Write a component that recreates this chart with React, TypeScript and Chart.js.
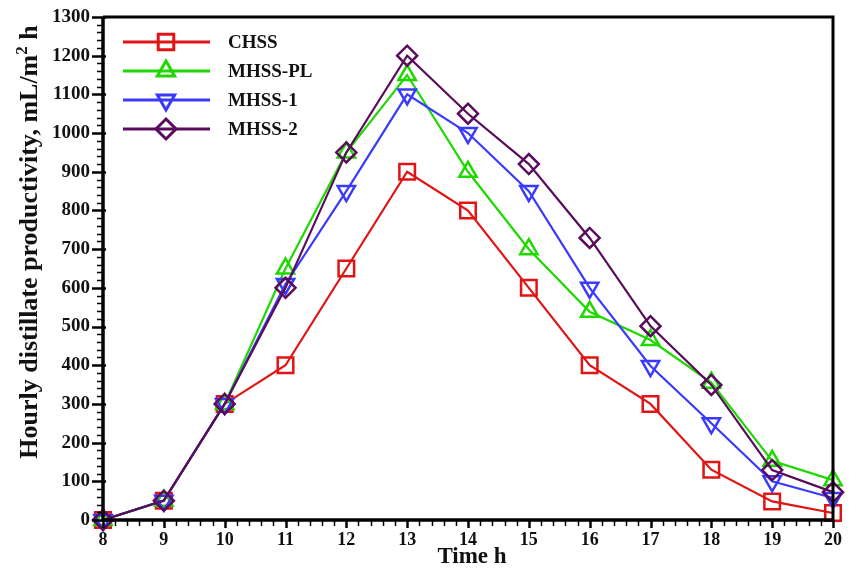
import { useEffect, useRef } from "react";
import { Chart, registerables } from "chart.js";

Chart.register(...registerables);

const hours = [8, 9, 10, 11, 12, 13, 14, 15, 16, 17, 18, 19, 20];
const chss = [0, 50, 300, 400, 650, 900, 800, 600, 400, 300, 130, 48, 18];
const mhssPL = [0, 50, 300, 650, 950, 1150, 900, 700, 538, 465, 355, 153, 103];
const mhss1 = [0, 50, 300, 610, 850, 1100, 1000, 850, 600, 398, 250, 100, 57];
const mhss2 = [0, 50, 300, 600, 950, 1200, 1050, 920, 729, 501, 349, 129, 72];

const seriesNames = ["CHSS", "MHSS-PL", "MHSS-1", "MHSS-2"];
const seriesColors = ["#e01414", "#1ed800", "#3a3aff", "#5a0c5c"];
const seriesMarkers = ["rect", "triangle", "triangle", "rectRot"];
const seriesRotation = [0, 0, 180, 0];
const seriesRadius = [11, 10, 10, 10];
const seriesValues = [chss, mhssPL, mhss1, mhss2];

const xTitle = "Time h";
const yTitleMain = "Hourly distillate productivity, mL/m";
const yTitleSup = "2";
const yTitleEnd = " h";

const FONT = "'Liberation Serif', 'Times New Roman', serif";

const framePlugin = {
  id: "frame",
  afterDraw(chart: any) {
    const { ctx, chartArea: a, scales } = chart;
    const x = scales.x;
    const y = scales.y;
    ctx.save();
    ctx.strokeStyle = "#000";
    // y ticks
    for (let v = 0; v <= 1300; v += 20) {
      const py = Math.round(y.getPixelForValue(v)) + 0.5;
      const major = v % 100 === 0;
      ctx.lineWidth = major ? 2.5 : 1.5;
      ctx.beginPath();
      ctx.moveTo(a.left - (major ? 11 : 6), py);
      ctx.lineTo(a.left + (major ? 3 : 0), py);
      ctx.stroke();
    }
    // x ticks
    for (let i = 0; i <= 60; i++) {
      const v = 8 + i * 0.2;
      const px = Math.round(x.getPixelForValue(v)) + 0.5;
      const major = i % 5 === 0;
      ctx.lineWidth = major ? 2.5 : 1.5;
      ctx.beginPath();
      ctx.moveTo(px, a.bottom);
      ctx.lineTo(px, a.bottom + (major ? 8 : 6));
      ctx.stroke();
    }
    // frame
    ctx.lineWidth = 3;
    ctx.beginPath();
    ctx.moveTo(a.left, a.top);
    ctx.lineTo(a.right, a.top);
    ctx.lineTo(a.right, a.bottom);
    ctx.stroke();
    ctx.lineWidth = 3.5;
    ctx.beginPath();
    ctx.moveTo(a.left, a.top);
    ctx.lineTo(a.left, a.bottom);
    ctx.lineTo(a.right, a.bottom);
    ctx.stroke();

    // legend
    for (let i = 0; i < seriesNames.length; i++) {
      const ly = 42 + i * 29;
      ctx.strokeStyle = seriesColors[i];
      ctx.lineWidth = 3;
      ctx.beginPath();
      ctx.moveTo(123, ly);
      ctx.lineTo(210, ly);
      ctx.stroke();
      ctx.strokeStyle = seriesColors[i];
      ctx.lineWidth = 3;
      drawMarker(ctx, seriesMarkers[i], seriesRadius[i], seriesRotation[i], 166, ly);
      ctx.fillStyle = "#111";
      ctx.font = `bold 19px ${FONT}`;
      ctx.textAlign = "left";
      ctx.textBaseline = "middle";
      ctx.fillText(seriesNames[i], 228, ly + 1);
    }

    // x title
    ctx.fillStyle = "#111";
    ctx.font = `bold 23px ${FONT}`;
    ctx.textAlign = "center";
    ctx.textBaseline = "alphabetic";
    ctx.fillText(xTitle, 472, 563);

    // y title (rotated)
    ctx.save();
    ctx.translate(30, 242);
    ctx.rotate(-Math.PI / 2);
    const big = `bold 26px ${FONT}`;
    const small = `bold 17px ${FONT}`;
    ctx.font = big;
    const w1 = ctx.measureText(yTitleMain).width;
    ctx.font = small;
    const w2 = ctx.measureText(yTitleSup).width;
    ctx.font = big;
    const w3 = ctx.measureText(yTitleEnd).width;
    const total = w1 + w2 + w3;
    let cx = -total / 2;
    ctx.textAlign = "left";
    ctx.textBaseline = "middle";
    ctx.fillText(yTitleMain, cx, 0);
    cx += w1;
    ctx.font = small;
    ctx.fillText(yTitleSup, cx, -7);
    cx += w2;
    ctx.font = big;
    ctx.fillText(yTitleEnd, cx, 0);
    ctx.restore();

    ctx.restore();
  },
};

function drawMarker(ctx: CanvasRenderingContext2D, style: string, r: number, rotDeg: number, x: number, y: number) {
  ctx.beginPath();
  if (style === "rect") {
    const s = r * Math.SQRT1_2;
    ctx.rect(x - s, y - s, 2 * s, 2 * s);
  } else if (style === "rectRot") {
    ctx.moveTo(x, y - r);
    ctx.lineTo(x + r, y);
    ctx.lineTo(x, y + r);
    ctx.lineTo(x - r, y);
    ctx.closePath();
  } else {
    let rad = (rotDeg * Math.PI) / 180;
    ctx.moveTo(x + Math.sin(rad) * r, y - Math.cos(rad) * r);
    rad += (2 * Math.PI) / 3;
    ctx.lineTo(x + Math.sin(rad) * r, y - Math.cos(rad) * r);
    rad += (2 * Math.PI) / 3;
    ctx.lineTo(x + Math.sin(rad) * r, y - Math.cos(rad) * r);
    ctx.closePath();
  }
  ctx.stroke();
}

export default function App() {
  const ref = useRef<HTMLCanvasElement | null>(null);
  useEffect(() => {
    if (!ref.current) return;
    const datasets = seriesNames.map((name, i) => ({
      label: name,
      data: hours.map((h, j) => ({ x: h, y: seriesValues[i][j] })),
      borderColor: seriesColors[i],
      backgroundColor: "rgba(0,0,0,0)",
      borderWidth: 2.2,
      pointStyle: seriesMarkers[i],
      pointRotation: seriesRotation[i],
      pointRadius: seriesRadius[i],
      pointBorderWidth: 2.5,
      pointBorderColor: seriesColors[i],
      pointBackgroundColor: "rgba(0,0,0,0)",
      tension: 0,
      order: 3 - i,
      clip: false as any,
    }));
    const chart = new Chart(ref.current, {
      type: "line",
      data: { datasets },
      options: {
        animation: false,
        responsive: false,
        layout: { padding: { top: 17, right: 26, left: 0, bottom: 0 } },
        plugins: { legend: { display: false }, tooltip: { enabled: false } },
        scales: {
          x: {
            type: "linear",
            min: 8,
            max: 20,
            grid: { display: false, drawTicks: false },
            border: { display: false },
            ticks: {
              stepSize: 1,
              padding: 10,
              color: "#111",
              font: { family: FONT, size: 18, weight: "bold" },
              callback: (v: any) => String(v),
            },
            afterFit: (s: any) => {
              s.height = 49;
              s.paddingLeft = 0;
              s.paddingRight = 0;
            },
          },
          y: {
            type: "linear",
            min: 0,
            max: 1300,
            grid: { display: false, drawTicks: false },
            border: { display: false },
            ticks: {
              stepSize: 100,
              padding: 13,
              color: "#111",
              font: { family: FONT, size: 19, weight: "bold" },
              callback: (v: any) => String(v),
            },
            afterFit: (s: any) => {
              s.width = 103;
              s.paddingTop = 0;
              s.paddingBottom = 0;
            },
          },
        },
      } as any,
      plugins: [framePlugin],
    });
    return () => chart.destroy();
  }, []);
  return (
    <div style={{ position: "absolute", left: 0, top: 0, width: 859, height: 569, background: "#fff" }}>
      <canvas ref={ref} width={859} height={569} />
    </div>
  );
}
